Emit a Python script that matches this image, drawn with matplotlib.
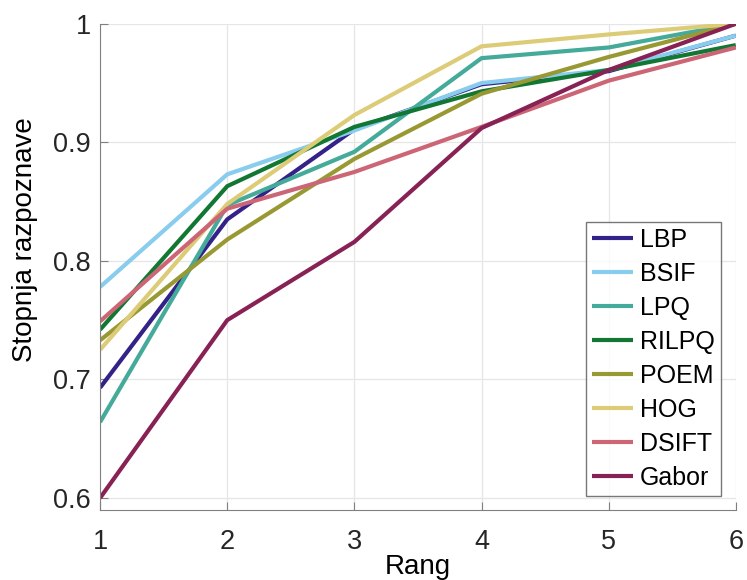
import numpy as np
import matplotlib
matplotlib.use("Agg")
import matplotlib.pyplot as plt

plt.rcParams['font.family'] = ['Liberation Sans', 'DejaVu Sans']

# rangi in stopnje razpoznave po metodah
rang = [1, 2, 3, 4, 5, 6]
lbp = [0.693, 0.835, 0.911, 0.949, 0.960, 0.990]
bsif = [0.778, 0.873, 0.910, 0.950, 0.961, 0.990]
lpq = [0.664, 0.847, 0.892, 0.971, 0.980, 1.000]
rilpq = [0.742, 0.863, 0.913, 0.943, 0.961, 0.982]
poem = [0.733, 0.818, 0.886, 0.941, 0.972, 1.000]
hog = [0.725, 0.848, 0.923, 0.981, 0.991, 1.000]
dsift = [0.749, 0.844, 0.875, 0.913, 0.952, 0.980]
gabor = [0.600, 0.750, 0.816, 0.912, 0.961, 1.000]

imena = ['LBP', 'BSIF', 'LPQ', 'RILPQ', 'POEM', 'HOG', 'DSIFT', 'Gabor']
barve = ['#332288', '#88CCEE', '#44AA99', '#117733', '#999933', '#DDCC77', '#CC6677', '#882255']
serije = [lbp, bsif, lpq, rilpq, poem, hog, dsift, gabor]

fig = plt.figure(figsize=(7.47, 5.8), dpi=100)
ax = fig.add_axes([0.134, 0.121, 0.851, 0.838])

for s, ime, b in zip(serije, imena, barve):
    ax.plot(rang, s, color=b, lw=3.0, label=ime, solid_capstyle='butt')

ax.set_xlim(1, 6)
ax.set_ylim(0.59, 1.0)
ax.set_xticks(rang)
ax.set_yticks([0.6, 0.7, 0.8, 0.9, 1.0])
ax.set_yticklabels(['0.6', '0.7', '0.8', '0.9', '1'])
ax.grid(True, color='#e6e6e6', lw=0.9)
ax.set_axisbelow(True)
for sp in ['top', 'right']:
    ax.spines[sp].set_visible(False)
for sp in ['left', 'bottom']:
    ax.spines[sp].set_color('#808080')
ax.tick_params(direction='in', length=6, color='#808080', labelsize=19.5, labelcolor='#262626')
ax.tick_params(axis='x', pad=14)
ax.tick_params(axis='y', pad=6.5)

ax.set_xlabel('Rang', fontsize=20, labelpad=-1)
ax.set_ylabel('Stopnja razpoznave', fontsize=20)
ax.yaxis.set_label_coords(-0.098, 0.556)

leg = ax.legend(loc='lower right', fontsize=18, frameon=True, fancybox=False,
                edgecolor='#555555', handlelength=1.64, handletextpad=0.28,
                labelspacing=0.4, borderpad=0.24, borderaxespad=0.0,
                bbox_to_anchor=(0.976, 0.029))
leg.get_frame().set_linewidth(1.0)

fig.savefig('out.png', dpi=100)
